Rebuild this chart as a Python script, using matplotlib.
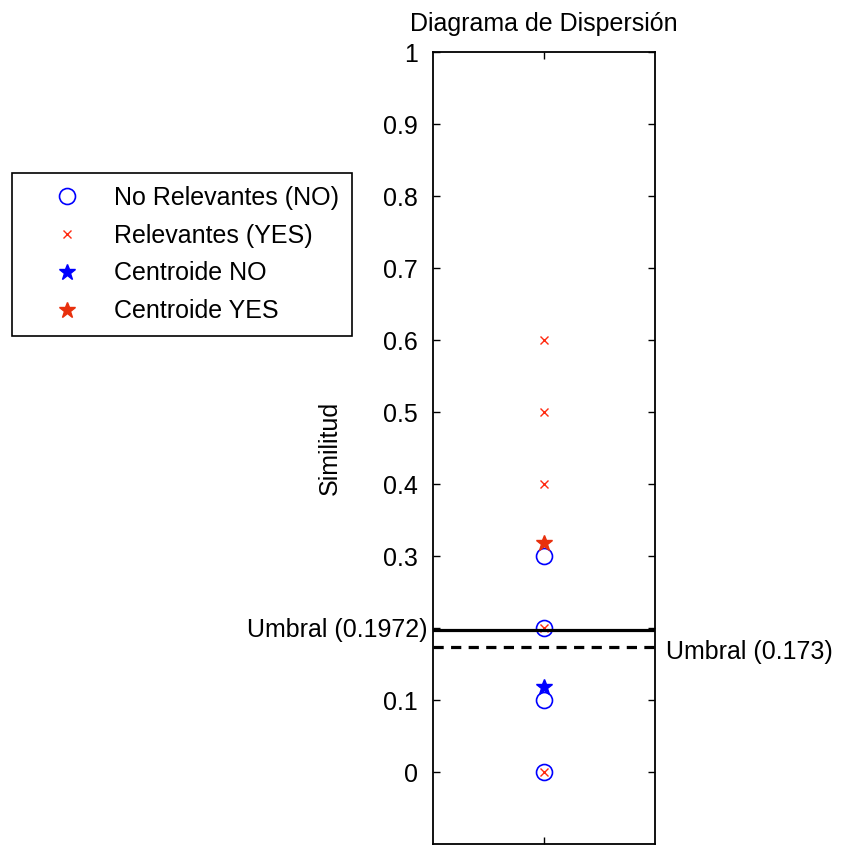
import matplotlib
matplotlib.use("Agg")
import matplotlib.pyplot as plt

plt.rcParams['font.family'] = ['Liberation Sans', 'DejaVu Sans']

# Data
no_rel_y = [0.0, 0.1, 0.2, 0.3]
yes_rel_y = [0.0, 0.2, 0.4, 0.5, 0.6]
centroid_no = 0.118
centroid_yes = 0.318
umbral_1 = 0.1972
umbral_2 = 0.173
yticks = [0, 0.1, 0.2, 0.3, 0.4, 0.5, 0.6, 0.7, 0.8, 0.9, 1]
ytick_labels = ["0", "0.1", "", "0.3", "0.4", "0.5", "0.6", "0.7", "0.8", "0.9", "1"]

FS = 18

fig = plt.figure(figsize=(8.41, 8.46), dpi=100)
ax = fig.add_axes([433/841, 2/846, 222/841, 792/846])

ax.plot([1]*len(no_rel_y), no_rel_y, linestyle='none', marker='o', markersize=11.5,
        markerfacecolor='none', markeredgecolor='#0000ff', markeredgewidth=1.2,
        label='No Relevantes (NO)')
ax.plot([1]*len(yes_rel_y), yes_rel_y, linestyle='none', marker='x', markersize=6,
        color='#ff2a10', markeredgewidth=1.0, label='Relevantes (YES)')
ax.plot([1], [centroid_no], linestyle='none', marker='*', markersize=12,
        color='#0000ff', label='Centroide NO')
ax.plot([1], [centroid_yes], linestyle='none', marker='*', markersize=12,
        color='#e8300d', label='Centroide YES')

ax.axhline(umbral_1, color='black', linewidth=2.3)
ax.axhline(umbral_2, color='black', linewidth=2.3, linestyle=(0, (3.2, 2.3)))

ax.set_xlim(0.5, 1.5)
ax.set_ylim(-0.1, 1.0)
ax.set_xticks([1])
ax.set_xticklabels([])
ax.set_yticks(yticks)
ax.set_yticklabels(ytick_labels, fontsize=FS)
ax.tick_params(direction='in', top=True, right=True, length=5, width=1.0, pad=11)
for s in ax.spines.values():
    s.set_linewidth(1.3)

ax.set_title('Diagrama de Dispersión', fontsize=FS, pad=15)
ax.set_ylabel('Similitud', fontsize=FS)
ax.yaxis.set_label_coords(-0.41, 0.5)

ax.annotate('Umbral (0.1972)', xy=(0, umbral_1), xycoords=ax.get_yaxis_transform(),
            xytext=(-4, 0), textcoords='offset points',
            ha='right', va='center', fontsize=FS)
ax.annotate('Umbral (0.173)', xy=(1, umbral_2), xycoords=ax.get_yaxis_transform(),
            xytext=(8, -3), textcoords='offset points',
            ha='left', va='center', fontsize=FS)

leg = fig.legend(loc='upper left', bbox_to_anchor=(12/841, 1 - 173/846), fontsize=FS,
                 frameon=True, fancybox=False, edgecolor='black', framealpha=1,
                 handlelength=3.4, handletextpad=0.2, borderpad=0.5, labelspacing=0.56,
                 borderaxespad=0)
leg.get_frame().set_linewidth(1.2)

fig.savefig('out.png', dpi=100)
